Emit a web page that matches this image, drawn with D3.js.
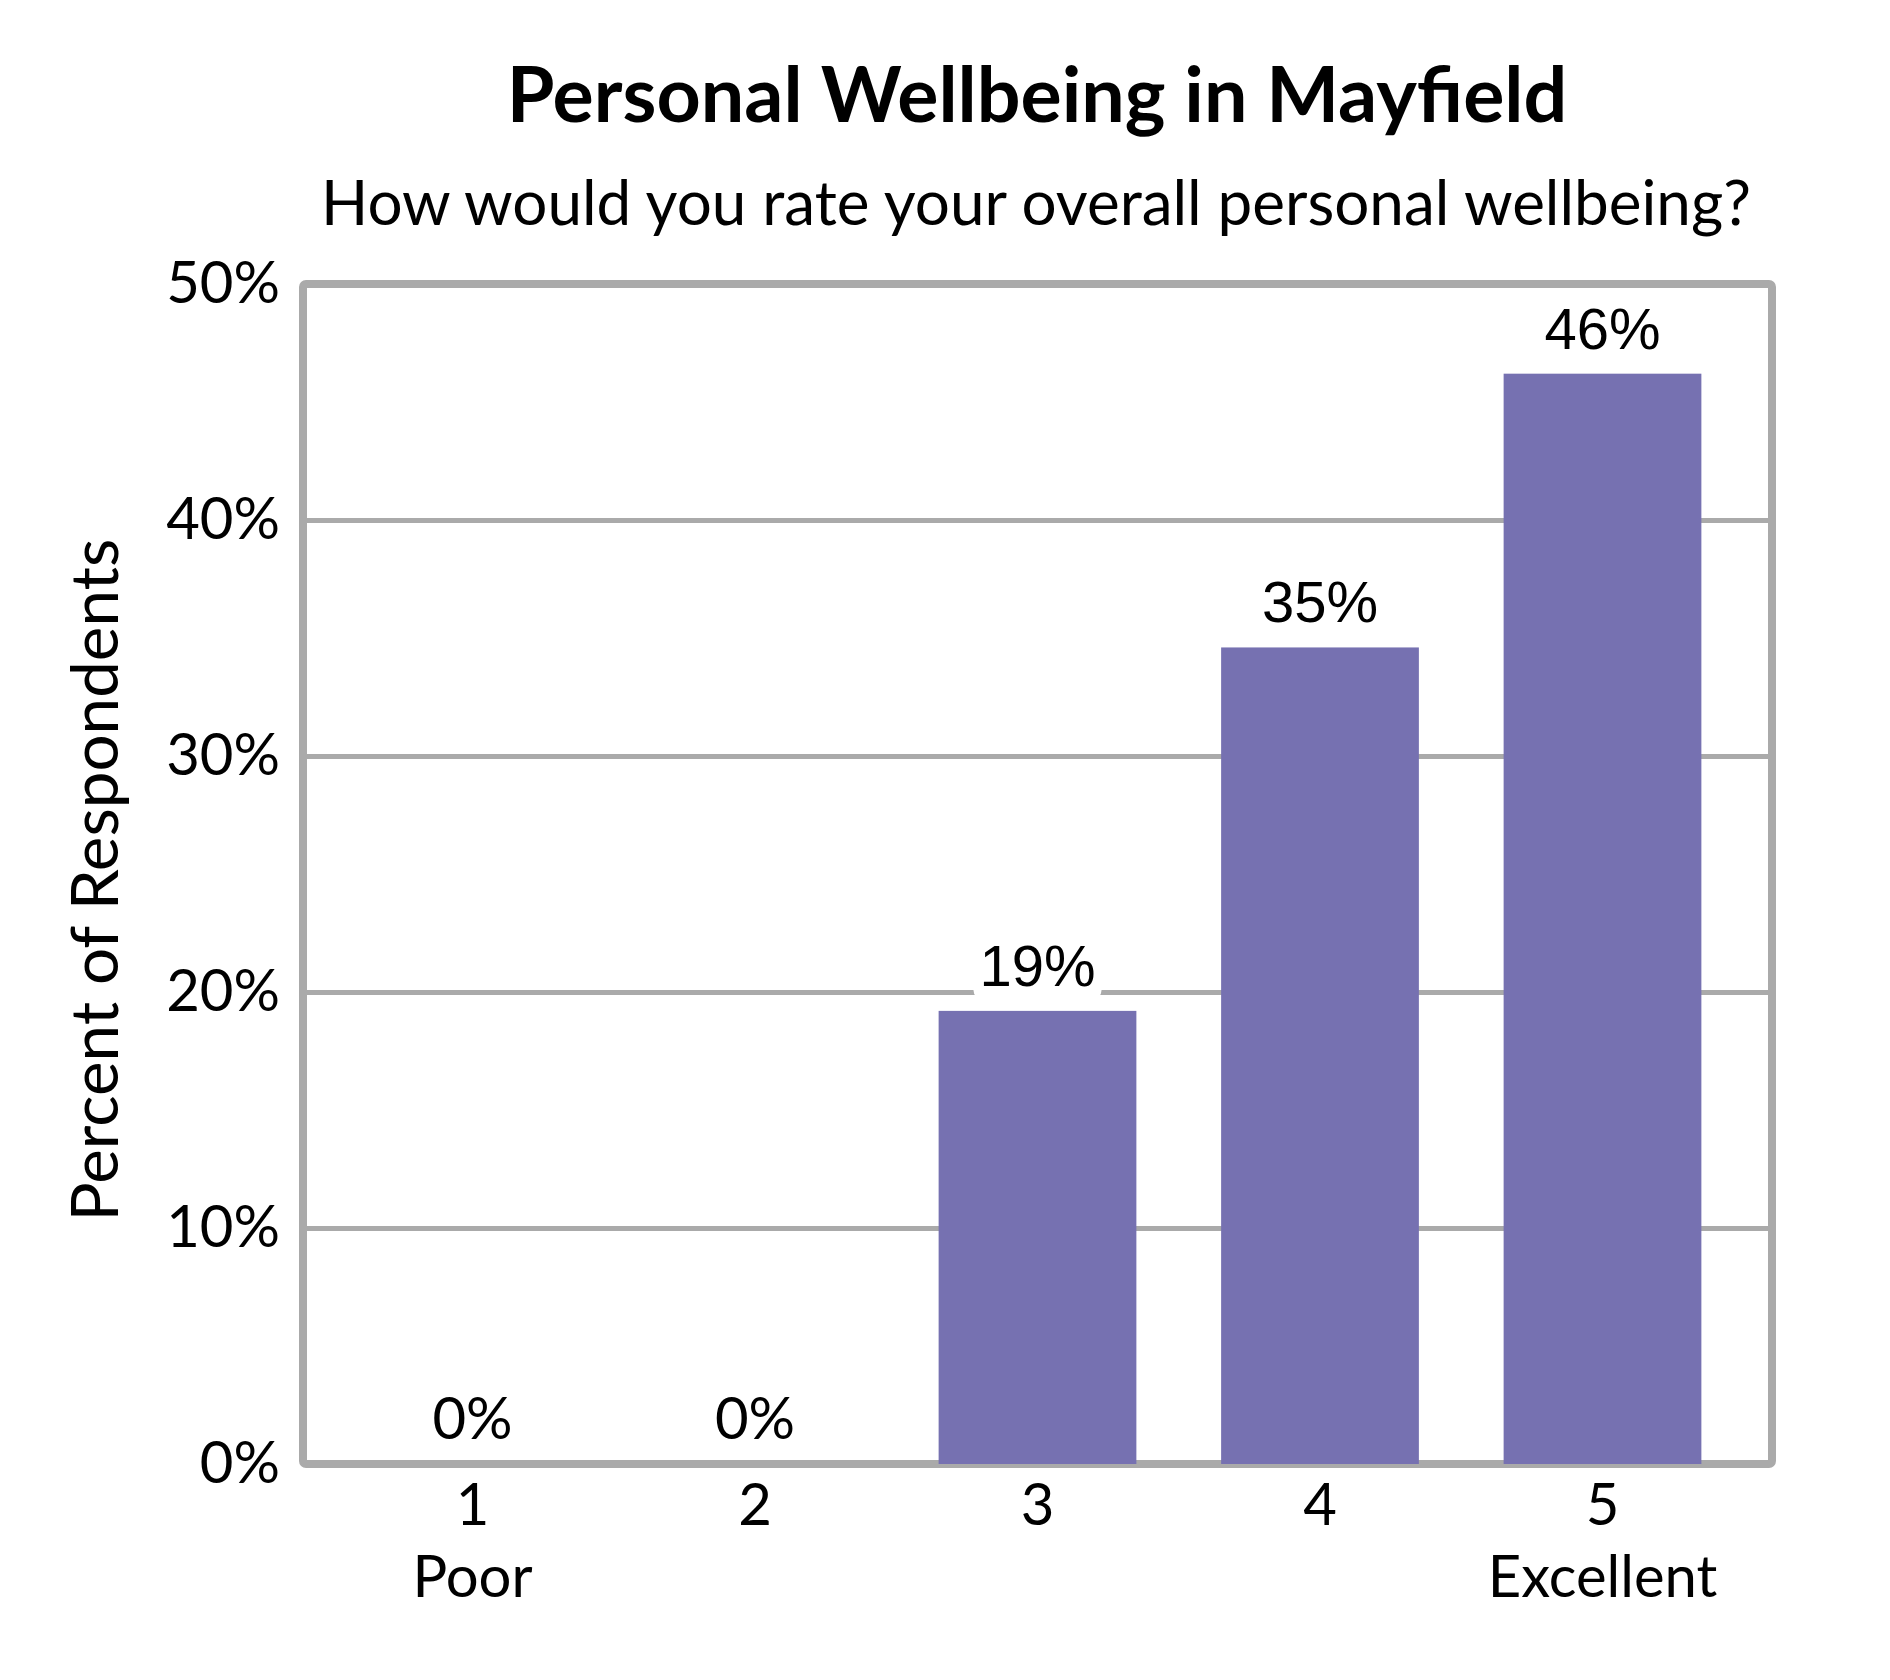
<!DOCTYPE html>
<html>
<head>
<meta charset="utf-8">
<script src="https://cdn.jsdelivr.net/npm/d3@7"></script>
<style>
  body { margin: 0; background: #fff; }
  svg { display: block; }
</style>
</head>
<body>
<div id="chart"></div>
<script>
var categories = ["1", "2", "3", "4", "5"];
var anchors = ["Poor", "", "", "", "Excellent"];
var percents = [0, 0, 19.2, 34.6, 46.2];
var yTicks = [0, 10, 20, 30, 40, 50];

var TITLE = "Personal Wellbeing in Mayfield";
var SUBTITLE = "How would you rate your overall personal wellbeing?";
var Y_TITLE = "Percent of Respondents";

var W = 1890, H = 1680;
var LEFT = 303, RIGHT = 1772, TOP = 284, BOTTOM = 1464;
var GRAY = "#aaaaaa";
var BAR = "#7671b1";
var FONT = "Lato, 'Open Sans', sans-serif";
var ARIAL = "'Liberation Sans', Arial, sans-serif";

var svg = d3.select("#chart")
  .append("svg")
  .attr("width", W)
  .attr("height", H);

var x = d3.scaleBand()
  .domain(categories)
  .range([LEFT, RIGHT])
  .paddingInner(0.3)
  .paddingOuter(0.25);

var y = d3.scaleLinear()
  .domain([0, 50])
  .range([BOTTOM, TOP]);

// shrink or grow a text until it is as wide as asked
function fitText(sel, width) {
  var size = parseFloat(sel.attr("font-size"));
  var len = sel.node().getComputedTextLength();
  sel.attr("font-size", size * width / len);
}

// titles
svg.append("text")
  .attr("x", 1037)
  .attr("y", 122)
  .attr("text-anchor", "middle")
  .attr("font-family", FONT)
  .attr("font-weight", "bold")
  .attr("font-size", 70)
  .text(TITLE)
  .call(fitText, 1061);

svg.append("text")
  .attr("x", 1036)
  .attr("y", 225)
  .attr("text-anchor", "middle")
  .attr("font-family", FONT)
  .attr("font-size", 60)
  .text(SUBTITLE)
  .call(fitText, 1430);

svg.append("text")
  .attr("transform", "translate(118," + 880 + ") rotate(-90)")
  .attr("text-anchor", "middle")
  .attr("font-family", FONT)
  .attr("font-size", 57)
  .text(Y_TITLE)
  .call(fitText, 683);

// gridlines
var grid = svg.append("g")
  .attr("transform", "translate(" + LEFT + ",0)")
  .call(d3.axisLeft(y)
    .tickValues(yTicks.filter(function(d) { return d > 0 && d < 50; }))
    .tickSize(-(RIGHT - LEFT))
    .tickFormat(""));
grid.select(".domain").remove();
grid.selectAll("line")
  .attr("stroke", GRAY)
  .attr("stroke-width", 5);

// plot frame
svg.append("rect")
  .attr("x", LEFT)
  .attr("y", TOP)
  .attr("width", RIGHT - LEFT)
  .attr("height", BOTTOM - TOP)
  .attr("rx", 3)
  .attr("fill", "none")
  .attr("stroke", GRAY)
  .attr("stroke-width", 8);

// y axis labels
var yAxis = svg.append("g")
  .attr("transform", "translate(" + LEFT + ",0)")
  .call(d3.axisLeft(y)
    .tickValues(yTicks)
    .tickSize(0)
    .tickPadding(23)
    .tickFormat(function(d) { return d + "%"; }));
yAxis.select(".domain").remove();
yAxis.selectAll("text")
  .attr("font-family", FONT)
  .attr("font-size", 58)
  .attr("fill", "#000");

// x axis labels, number plus anchor word
var xAxis = svg.append("g")
  .attr("transform", "translate(0," + BOTTOM + ")")
  .call(d3.axisBottom(x).tickSize(0).tickFormat(""));
xAxis.select(".domain").remove();
xAxis.selectAll(".tick").each(function(d, i) {
  var t = d3.select(this).append("text")
    .attr("font-family", FONT)
    .attr("font-size", 58)
    .attr("fill", "#000")
    .attr("text-anchor", "middle");
  t.append("tspan").attr("x", 0).attr("y", 61).text(d);
  t.append("tspan").attr("x", 0).attr("y", 133).text(anchors[i]);
});

// bars
svg.append("g")
  .selectAll("rect")
  .data(percents)
  .join("rect")
  .attr("x", function(d, i) { return x(categories[i]); })
  .attr("width", x.bandwidth())
  .attr("y", function(d) { return y(d); })
  .attr("height", function(d) { return y(0) - y(d); })
  .attr("fill", BAR);

// value labels with white boxes behind them
var labels = svg.append("g")
  .selectAll("g")
  .data(percents)
  .join("g")
  .attr("transform", function(d, i) {
    return "translate(" + (x(categories[i]) + x.bandwidth() / 2) + "," + (y(d) - 25) + ")";
  });

labels.append("text")
  .attr("text-anchor", "middle")
  .attr("font-family", function(d) { return d === 0 ? FONT : ARIAL; })
  .attr("font-size", 58)
  .attr("fill", "#000")
  .text(function(d) { return Math.round(d) + "%"; });

labels.each(function() {
  var g = d3.select(this);
  var box = g.select("text").node().getBBox();
  g.insert("rect", "text")
    .attr("x", box.x - 6)
    .attr("y", box.y + 2)
    .attr("width", box.width + 12)
    .attr("height", box.height)
    .attr("rx", 10)
    .attr("fill", "#fff");
});
</script>
</body>
</html>
